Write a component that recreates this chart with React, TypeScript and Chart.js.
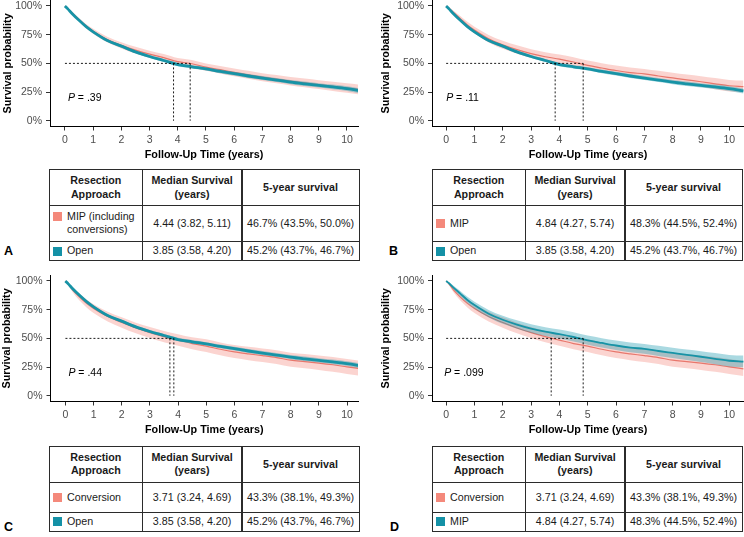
import React, { useEffect, useRef } from "react";
import { Chart, registerables } from "chart.js";

Chart.register(...registerables);

const FONT = "'Liberation Sans', Arial, Helvetica, sans-serif";

// ---------------- data ----------------
const timeYears = [0, 0.1, 0.25, 0.5, 0.75, 1, 1.5, 2, 2.5, 3, 3.5, 4, 4.5, 5, 5.5, 6, 6.5, 7, 7.5, 8, 8.5, 9, 9.5, 10, 10.5];

const openSurv = [1.0, 0.975, 0.935, 0.875, 0.82, 0.775, 0.7, 0.65, 0.6, 0.56, 0.525, 0.49, 0.47, 0.452, 0.43, 0.41, 0.39, 0.372, 0.355, 0.337, 0.322, 0.308, 0.295, 0.28, 0.26];
const openLower = [1.0, 0.971, 0.929, 0.867, 0.811, 0.765, 0.689, 0.638, 0.588, 0.547, 0.511, 0.475, 0.455, 0.437, 0.414, 0.394, 0.373, 0.355, 0.337, 0.319, 0.303, 0.289, 0.275, 0.259, 0.238];
const openUpper = [1.0, 0.979, 0.941, 0.883, 0.829, 0.785, 0.711, 0.662, 0.612, 0.573, 0.539, 0.505, 0.485, 0.467, 0.446, 0.426, 0.407, 0.389, 0.373, 0.355, 0.341, 0.327, 0.315, 0.301, 0.282];

const mipInclSurv = [1.0, 0.978, 0.94, 0.88, 0.825, 0.78, 0.707, 0.657, 0.615, 0.58, 0.55, 0.515, 0.497, 0.467, 0.445, 0.422, 0.4, 0.38, 0.362, 0.345, 0.33, 0.315, 0.3, 0.285, 0.27];
const mipInclLower = [1.0, 0.971, 0.928, 0.864, 0.806, 0.759, 0.683, 0.63, 0.586, 0.549, 0.518, 0.483, 0.464, 0.435, 0.412, 0.388, 0.365, 0.345, 0.326, 0.308, 0.292, 0.276, 0.26, 0.244, 0.226];
const mipInclUpper = [1.0, 0.985, 0.952, 0.896, 0.844, 0.801, 0.731, 0.684, 0.644, 0.611, 0.582, 0.547, 0.53, 0.5, 0.478, 0.456, 0.435, 0.415, 0.398, 0.382, 0.368, 0.354, 0.34, 0.326, 0.314];

const mipSurv = [1.0, 0.98, 0.945, 0.89, 0.835, 0.79, 0.715, 0.662, 0.62, 0.585, 0.558, 0.537, 0.512, 0.483, 0.46, 0.438, 0.42, 0.408, 0.39, 0.373, 0.356, 0.34, 0.322, 0.305, 0.298];
const mipLower = [1.0, 0.972, 0.93, 0.868, 0.808, 0.76, 0.682, 0.627, 0.584, 0.548, 0.52, 0.498, 0.473, 0.445, 0.421, 0.398, 0.379, 0.366, 0.347, 0.329, 0.311, 0.294, 0.275, 0.256, 0.248];
const mipUpper = [1.0, 0.988, 0.96, 0.912, 0.862, 0.82, 0.748, 0.697, 0.657, 0.624, 0.598, 0.578, 0.554, 0.524, 0.502, 0.481, 0.463, 0.452, 0.435, 0.419, 0.403, 0.388, 0.372, 0.356, 0.35];

const conversionSurv = [1.0, 0.975, 0.925, 0.86, 0.805, 0.76, 0.69, 0.638, 0.59, 0.55, 0.515, 0.485, 0.455, 0.433, 0.405, 0.382, 0.365, 0.35, 0.333, 0.31, 0.298, 0.285, 0.27, 0.252, 0.235];
const conversionLower = [1.0, 0.962, 0.903, 0.83, 0.77, 0.722, 0.648, 0.593, 0.544, 0.503, 0.467, 0.436, 0.405, 0.381, 0.352, 0.328, 0.31, 0.294, 0.276, 0.252, 0.239, 0.225, 0.209, 0.19, 0.172];
const conversionUpper = [1.0, 0.986, 0.945, 0.889, 0.839, 0.797, 0.731, 0.683, 0.637, 0.599, 0.565, 0.537, 0.509, 0.493, 0.465, 0.442, 0.426, 0.412, 0.396, 0.374, 0.363, 0.351, 0.337, 0.32, 0.304];

const xTickValues = [0, 1, 2, 3, 4, 5, 6, 7, 8, 9, 10];
const yTickValues = [0, 0.25, 0.5, 0.75, 1];
const yTickLabels = ["0%", "25%", "50%", "75%", "100%"];

const headerCells = ["Resection Approach", "Median Survival (years)", "5-year survival"];

// Panel A
const labelsA = ["MIP (including conversions)", "Open"];
const medianYearsA = [4.44, 3.85];
const medianTextA = ["4.44 (3.82, 5.11)", "3.85 (3.58, 4.20)"];
const fiveYearTextA = ["46.7% (43.5%, 50.0%)", "45.2% (43.7%, 46.7%)"];
const pValueA = ".39";

// Panel B
const labelsB = ["MIP", "Open"];
const medianYearsB = [4.84, 3.85];
const medianTextB = ["4.84 (4.27, 5.74)", "3.85 (3.58, 4.20)"];
const fiveYearTextB = ["48.3% (44.5%, 52.4%)", "45.2% (43.7%, 46.7%)"];
const pValueB = ".11";

// Panel C
const labelsC = ["Conversion", "Open"];
const medianYearsC = [3.71, 3.85];
const medianTextC = ["3.71 (3.24, 4.69)", "3.85 (3.58, 4.20)"];
const fiveYearTextC = ["43.3% (38.1%, 49.3%)", "45.2% (43.7%, 46.7%)"];
const pValueC = ".44";

// Panel D
const labelsD = ["Conversion", "MIP"];
const medianYearsD = [3.71, 4.84];
const medianTextD = ["3.71 (3.24, 4.69)", "4.84 (4.27, 5.74)"];
const fiveYearTextD = ["43.3% (38.1%, 49.3%)", "48.3% (44.5%, 52.4%)"];
const pValueD = ".099";

// ---------------- styles ----------------
const RED_LINE = "#e8776c";
const RED_BAND = "rgba(242,125,112,0.33)";
const BLUE_LINE = "#1793a6";
const BLUE_BAND = "rgba(20,150,172,0.36)";
const RED_SQUARE = "#f4897b";
const BLUE_SQUARE = "#1491a6";

type Curve = { surv: number[]; lower: number[]; upper: number[]; width: number };

interface ChartProps {
  originX: number;
  originY: number;
  axisLeft: number;
  yTitleCenter: number;
  rightPad: number;
  xMin: number;
  xMax: number;
  pOffset: number;
  pValue: string;
  medians: number[];
  red: Curve;
  blue: Curve;
}

function KMChart(props: ChartProps) {
  const ref = useRef<HTMLCanvasElement>(null);
  useEffect(() => {
    const { red, blue, medians, pValue, xMin, xMax, axisLeft, yTitleCenter, rightPad, pOffset } = props;
    const pts = (arr: number[]) => timeYears.map((t, i) => ({ x: t, y: arr[i] }));
    const smooth = { cubicInterpolationMode: "monotone" };
    const bandCommon = { ...smooth, pointRadius: 0, borderWidth: 0, borderColor: "rgba(0,0,0,0)" };
    const datasets: any[] = [
      { ...bandCommon, data: pts(red.upper), fill: "+1", backgroundColor: RED_BAND, order: 6 },
      { ...bandCommon, data: pts(red.lower), fill: false, order: 5 },
      { ...smooth, data: pts(red.surv), borderColor: RED_LINE, borderWidth: red.width, pointRadius: 0, fill: false, order: 4 },
      { ...bandCommon, data: pts(blue.upper), fill: "+1", backgroundColor: BLUE_BAND, order: 3 },
      { ...bandCommon, data: pts(blue.lower), fill: false, order: 2 },
      { ...smooth, data: pts(blue.surv), borderColor: BLUE_LINE, borderWidth: blue.width, pointRadius: 0, fill: false, order: 1 },
    ];
    const overlay = {
      id: "kmOverlay",
      afterDatasetsDraw(chart: any) {
        const ctx = chart.ctx as CanvasRenderingContext2D;
        const xs = chart.scales.x;
        const ys = chart.scales.y;
        ctx.save();
        ctx.strokeStyle = "#000";
        ctx.lineWidth = 0.9;
        ctx.setLineDash([2, 2]);
        const y50 = ys.getPixelForValue(0.5);
        const y0 = ys.getPixelForValue(0);
        const mMax = Math.max(...medians);
        ctx.beginPath();
        ctx.moveTo(xs.getPixelForValue(0), y50);
        ctx.lineTo(xs.getPixelForValue(mMax), y50);
        medians.forEach((m) => {
          const px = xs.getPixelForValue(m);
          ctx.moveTo(px, y50);
          ctx.lineTo(px, y0);
        });
        ctx.stroke();
        ctx.setLineDash([]);
        ctx.fillStyle = "#000";
        ctx.textBaseline = "middle";
        ctx.textAlign = "left";
        const px = xs.getPixelForValue(0) + pOffset;
        const py = ys.getPixelForValue(0.2);
        ctx.font = `italic 10.5px ${FONT}`;
        ctx.fillText("P", px, py);
        const w = ctx.measureText("P").width;
        ctx.font = `10.5px ${FONT}`;
        ctx.fillText(" = " + pValue, px + w, py);
        ctx.restore();
      },
    };
    const chart = new Chart(ref.current as HTMLCanvasElement, {
      type: "line",
      data: { datasets },
      options: {
        animation: false,
        responsive: false,
        maintainAspectRatio: false,
        layout: { padding: { top: 8.25, left: 0, right: rightPad, bottom: 0 } },
        plugins: { legend: { display: false }, tooltip: { enabled: false } },
        scales: {
          x: {
            type: "linear",
            min: xMin,
            max: xMax,
            afterBuildTicks: (s: any) => {
              s.ticks = xTickValues.map((v) => ({ value: v }));
            },
            afterFit: (s: any) => {
              s.height = 35.5;
              s.paddingLeft = 0;
              s.paddingRight = 0;
            },
            ticks: {
              color: "#4d4d4d",
              font: { family: FONT, size: 10.5 },
              padding: 3.2,
              maxRotation: 0,
              autoSkip: false,
              callback: (v: any) => String(v),
            },
            grid: { drawOnChartArea: false, drawTicks: true, tickLength: 4, color: "#333", lineWidth: 1 },
            border: { display: true, color: "#000", width: 1 },
            title: {
              display: true,
              text: "Follow-Up Time (years)",
              color: "#000",
              font: { family: FONT, size: 10.8, weight: "bold" },
              padding: { top: 1.5, bottom: 0 },
            },
          },
          y: {
            type: "linear",
            min: -0.05,
            max: 1.05,
            afterBuildTicks: (s: any) => {
              s.ticks = yTickValues.map((v) => ({ value: v }));
            },
            afterFit: (s: any) => {
              s.width = axisLeft;
              s.paddingTop = 0;
              s.paddingBottom = 0;
            },
            ticks: {
              color: "#4d4d4d",
              font: { family: FONT, size: 10.5 },
              padding: 4,
              autoSkip: false,
              callback: (v: any) => {
                const i = yTickValues.indexOf(Number(v));
                return i >= 0 ? yTickLabels[i] : "";
              },
            },
            grid: { drawOnChartArea: false, drawTicks: true, tickLength: 4, color: "#333", lineWidth: 1 },
            border: { display: true, color: "#000", width: 1 },
            title: {
              display: true,
              text: "Survival probability",
              color: "#000",
              font: { family: FONT, size: 10.8, weight: "bold" },
              padding: { top: yTitleCenter - 6.48, bottom: 0 },
            },
          },
        },
      } as any,
      plugins: [overlay],
    });
    return () => chart.destroy();
  }, []);
  return (
    <canvas
      ref={ref}
      width={372}
      height={170}
      style={{ position: "absolute", left: props.originX, top: props.originY - 8, width: 372, height: 170 }}
    />
  );
}

interface TableProps {
  left: number;
  top: number;
  rowHeights: number[];
  labels: string[];
  squareColors: string[];
  medianText: string[];
  fiveYearText: string[];
}

const COL_W = [92.7, 99.8, 117];

function SurvTable(p: TableProps) {
  const xs = [0, COL_W[0], COL_W[0] + COL_W[1]];
  const ys = [0, p.rowHeights[0], p.rowHeights[0] + p.rowHeights[1]];
  const cells: React.ReactNode[] = [];
  const cellStyle = (c: number, r: number, justify: string): React.CSSProperties => ({
    position: "absolute",
    left: xs[c],
    top: ys[r],
    width: COL_W[c] + 1,
    height: p.rowHeights[r] + 1,
    border: "1px solid #2b2b2b",
    boxSizing: "border-box",
    display: "flex",
    alignItems: "center",
    justifyContent: justify,
    textAlign: justify === "center" ? "center" : "left",
    padding: c === 0 && r > 0 ? "0 2px 0 3px" : "0 1px",
    whiteSpace: "normal",
  });
  headerCells.forEach((h, c) => {
    cells.push(
      <div key={`h${c}`} style={{ ...cellStyle(c, 0, "center"), fontWeight: "bold" }}>
        {h}
      </div>
    );
  });
  p.labels.forEach((lab, i) => {
    const r = i + 1;
    cells.push(
      <div key={`l${i}`} style={cellStyle(0, r, "flex-start")}>
        <div style={{ display: "flex", alignItems: "flex-start" }}>
          <span
            style={{
              display: "inline-block",
              width: 9,
              height: 9,
              marginTop: 2.2,
              marginRight: 5,
              flexShrink: 0,
              background: p.squareColors[i],
            }}
          />
          <span>{lab}</span>
        </div>
      </div>
    );
    cells.push(
      <div key={`m${i}`} style={cellStyle(1, r, "center")}>
        {p.medianText[i]}
      </div>
    );
    cells.push(
      <div key={`f${i}`} style={cellStyle(2, r, "center")}>
        {p.fiveYearText[i]}
      </div>
    );
  });
  return (
    <div
      style={{
        position: "absolute",
        left: p.left,
        top: p.top,
        width: COL_W[0] + COL_W[1] + COL_W[2] + 1,
        height: p.rowHeights[0] + p.rowHeights[1] + p.rowHeights[2] + 1,
        fontFamily: FONT,
        fontSize: 10.7,
        lineHeight: "13.3px",
        color: "#1a1a1a",
      }}
    >
      {cells}
    </div>
  );
}

function Letter({ text, left, top }: { text: string; left: number; top: number }) {
  return (
    <div
      style={{
        position: "absolute",
        left,
        top,
        fontFamily: FONT,
        fontWeight: "bold",
        fontSize: 12.5,
        lineHeight: "12px",
        color: "#000",
      }}
    >
      {text}
    </div>
  );
}

export default function App() {
  const open: Curve = { surv: openSurv, lower: openLower, upper: openUpper, width: 2.8 };
  const mipIncl: Curve = { surv: mipInclSurv, lower: mipInclLower, upper: mipInclUpper, width: 1.2 };
  const mipRed: Curve = { surv: mipSurv, lower: mipLower, upper: mipUpper, width: 1.2 };
  const mipBlue: Curve = { surv: mipSurv, lower: mipLower, upper: mipUpper, width: 1.8 };
  const conv: Curve = { surv: conversionSurv, lower: conversionLower, upper: conversionUpper, width: 1.2 };
  return (
    <div style={{ position: "absolute", left: 0, top: 0, width: 744, height: 537, overflow: "hidden", background: "#fff" }}>
      {/* A */}
      <KMChart originX={0} originY={0} axisLeft={50} yTitleCenter={7.8} rightPad={14} xMin={-0.53} xMax={10.39} pOffset={3} pValue={pValueA} medians={medianYearsA} red={mipIncl} blue={open} />
      <SurvTable left={49} top={169.3} rowHeights={[35.7, 36, 19]} labels={labelsA} squareColors={[RED_SQUARE, BLUE_SQUARE]} medianText={medianTextA} fiveYearText={fiveYearTextA} />
      <Letter text="A" left={4} top={244.6} />
      {/* B */}
      <KMChart originX={372} originY={0} axisLeft={60} yTitleCenter={13.8} rightPad={0} xMin={-0.5} xMax={10.52} pOffset={0} pValue={pValueB} medians={medianYearsB} red={mipRed} blue={open} />
      <SurvTable left={432} top={169.3} rowHeights={[35.7, 36, 19]} labels={labelsB} squareColors={[RED_SQUARE, BLUE_SQUARE]} medianText={medianTextB} fiveYearText={fiveYearTextB} />
      <Letter text="B" left={389} top={244.6} />
      {/* C */}
      <KMChart originX={0} originY={275} axisLeft={50.5} yTitleCenter={7.2} rightPad={14} xMin={-0.53} xMax={10.39} pOffset={3} pValue={pValueC} medians={medianYearsC} red={conv} blue={open} />
      <SurvTable left={49} top={446} rowHeights={[35.7, 30, 19.3]} labels={labelsC} squareColors={[RED_SQUARE, BLUE_SQUARE]} medianText={medianTextC} fiveYearText={fiveYearTextC} />
      <Letter text="C" left={4} top={520.9} />
      {/* D */}
      <KMChart originX={372} originY={275} axisLeft={60} yTitleCenter={14.5} rightPad={0} xMin={-0.5} xMax={10.52} pOffset={-2} pValue={pValueD} medians={medianYearsD} red={conv} blue={mipBlue} />
      <SurvTable left={432} top={446} rowHeights={[35.7, 30, 19.3]} labels={labelsD} squareColors={[RED_SQUARE, BLUE_SQUARE]} medianText={medianTextD} fiveYearText={fiveYearTextD} />
      <Letter text="D" left={390} top={520.9} />
    </div>
  );
}
